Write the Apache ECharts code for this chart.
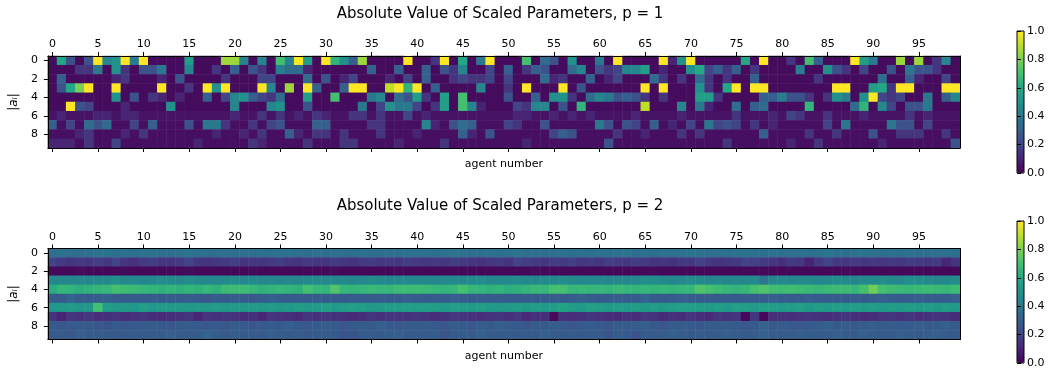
<!DOCTYPE html>
<html><head><meta charset="utf-8">
<script src="https://cdn.jsdelivr.net/npm/echarts@6/dist/echarts.min.js"></script>
<style>html,body{margin:0;padding:0;background:#fff}#c{width:1056px;height:373px}</style>
</head><body><div id="c"></div>
<script>
// ---- data ----
const titleTop = 'Absolute Value of Scaled Parameters, p = 1';
const titleBottom = 'Absolute Value of Scaled Parameters, p = 2';
const rowLabels = ['0','1','2','3','4','5','6','7','8','9'];
const agentLabels = Array.from({length:100}, (_, i) => String(i));
const colorTicks = [0, 0.2, 0.4, 0.6, 0.8, 1.0];

// p = 1 , rows 0..9 , agents 0..99
const p1r0 = [.03,.6,.25,.03,.25,1,.45,.5,1,.42, 1,.03,.03,.03,.03,.55,.03,.03,.03,.85, .85,.45,.03,.45,.03,.7,.45,1,.55,.03, 1,.65,.5,.3,.85,.03,.03,.03,.03,1, .03,.03,.15,1,.03,.6,.03,.4,1,.03, .03,.03,.7,.03,.35,.25,.03,.5,.03,.03, .4,.03,1,.03,.03,.03,.03,1,.1,.5, 1,.03,.03,.03,.03,.03,.6,.03,1,.03, .03,.15,.03,.7,.3,.03,.03,.03,1,.55, .4,.03,.03,.85,.03,.85,.03,.15,.45,.03];
const p1r1 = [.03,.03,.03,.15,.15,.4,.03,.5,.15,.03, .25,.25,.4,.03,.03,.45,.03,.03,.15,.03, .3,.03,.25,.15,.03,.42,.35,.35,.1,.03, .03,.03,.03,.03,.03,.3,.03,.03,.3,.03, .03,.3,.03,.25,.15,.45,.03,.03,.2,.03, .3,.03,.15,.3,.25,.03,.03,.35,.45,.03, .25,.15,.2,.45,.45,.55,.03,.1,.03,.03, .5,.6,.2,.3,.15,.3,.03,.15,.03,.03, .03,.03,.42,.03,.03,.5,.25,.15,.03,.2, .03,.03,.25,.03,.4,.25,.25,.15,.03,.03];
const p1r2 = [.03,.3,.03,.03,.03,.03,.03,.1,.15,.03, .03,.03,.1,.03,.25,.03,.03,.03,.03,.15, .03,.03,.03,.2,.2,.03,.03,.03,.35,.03, .25,.03,.1,.2,.03,.03,.03,.1,.03,.2, .03,.3,.03,.03,.15,.2,.15,.15,.2,.03, .2,.03,.03,.03,.35,.1,.15,.03,.03,.3, .03,.1,.2,.03,.03,.03,.35,.15,.03,.15, .03,.35,.15,.03,.15,.03,.03,.3,.03,.03, .03,.03,.03,.03,.15,.03,.03,.03,.03,.03, .03,.35,.03,.03,.3,.1,.03,.03,.2,.03];
const p1r3 = [.03,.25,.6,.8,1,.03,.03,1,.03,.03, .03,.03,1,.03,.03,.15,.03,1,.5,1, .03,.03,.03,1,.45,.03,.85,.03,1,.3, .03,.03,.3,1,1,.03,.03,.9,1,.65, 1,.03,.3,.03,.03,.03,.03,.45,.03,.03, .15,.03,1,.03,.03,.03,1,.03,.25,.03, .03,.03,.03,.03,.03,1,.03,1,.03,.03, .03,.5,.15,.03,.6,1,.03,1,1,.03, .03,.03,.03,.03,.03,.03,1,1,.03,.03, .55,.6,.15,1,1,.03,.03,.03,1,1];
const p1r4 = [.03,.03,.03,.03,.03,.03,.03,.5,.03,.25, .03,.15,.1,.03,.1,.03,.03,.3,.03,.2, .45,.5,.3,.2,.15,.35,.03,.03,.55,.03, .03,.7,.03,.03,.03,.4,.45,.03,.35,.25, .55,.15,.03,.55,.03,.7,.03,.03,.03,.03, .25,.03,.03,.3,.03,.5,.5,.15,.03,.35, .45,.4,.25,.3,.25,.15,.03,.15,.03,.03, .03,.55,.55,.15,.03,.03,.03,.03,.3,.3, .42,.25,.25,.15,.03,.15,.5,.42,.03,.5, 1,.2,.15,.2,.03,.03,.4,.03,.3,.45];
const p1r5 = [.03,.03,1,.25,.2,.03,.03,.03,.1,.03, .03,.03,.03,.5,.03,.03,.03,.03,.03,.03, .45,.03,.03,.03,.45,.5,.03,.03,.25,.03, .03,.03,.03,.03,.4,.03,.2,.5,.4,.4, .2,.03,.15,.55,.03,.7,.45,.1,.03,.03, .03,.2,.15,.45,.45,.03,.25,.03,.65,.03, .03,.03,.03,.03,.03,.9,.03,.03,.03,.45, .03,.4,.1,.03,.03,.35,.03,.3,.35,.03, .03,.03,.03,.65,.03,.03,.03,.03,.35,.65, .03,.45,.2,.03,.25,.25,.4,.03,.03,.03];
const p1r6 = [.05,.1,.05,.05,.05,.1,.1,.05,.1,.1, .05,.05,.05,.05,.05,.05,.05,.05,.05,.05, .1,.05,.05,.15,.05,.15,.05,.1,.05,.15, .1,.05,.05,.15,.15,.05,.15,.05,.05,.2, .05,.1,.05,.05,.05,.05,.05,.05,.05,.05, .05,.1,.1,.05,.05,.1,.05,.1,.05,.1, .05,.05,.05,.05,.1,.05,.05,.05,.05,.1, .05,.05,.05,.05,.05,.15,.05,.05,.05,.1, .05,.2,.15,.05,.05,.15,.05,.05,.05,.1, .05,.05,.05,.05,.15,.05,.1,.05,.05,.05];
const p1r7 = [.3,.04,.2,.04,.35,.25,.35,.04,.04,.2, .04,.3,.04,.04,.04,.25,.04,.4,.4,.15, .04,.04,.15,.04,.2,.25,.04,.04,.04,.3, .3,.04,.04,.04,.04,.15,.15,.04,.04,.04, .04,.45,.1,.04,.25,.35,.3,.04,.04,.04, .2,.15,.04,.04,.25,.04,.04,.04,.04,.04, .4,.25,.04,.25,.2,.04,.3,.04,.1,.04, .2,.04,.4,.2,.25,.2,.04,.15,.04,.1, .04,.04,.04,.04,.04,.2,.04,.4,.04,.04, .04,.04,.4,.25,.25,.04,.2,.04,.04,.04];
const p1r8 = [.04,.04,.04,.1,.15,.04,.04,.04,.1,.04, .15,.04,.04,.04,.04,.04,.04,.04,.1,.04, .04,.1,.04,.15,.04,.04,.3,.1,.04,.15, .15,.04,.15,.04,.04,.04,.15,.04,.04,.04, .1,.04,.04,.04,.04,.3,.1,.04,.25,.04, .04,.04,.04,.04,.04,.2,.3,.25,.04,.04, .04,.04,.15,.04,.04,.1,.04,.04,.04,.15, .04,.15,.04,.04,.04,.04,.04,.04,.3,.04, .04,.04,.04,.15,.04,.04,.15,.04,.04,.04, .25,.04,.04,.15,.15,.15,.04,.04,.15,.04];
const p1r9 = [.1,.1,.1,.04,.15,.04,.04,.2,.04,.04, .04,.04,.04,.04,.04,.04,.1,.04,.04,.04, .04,.04,.15,.1,.04,.04,.04,.04,.15,.04, .04,.04,.15,.15,.04,.04,.04,.04,.1,.04, .04,.04,.04,.15,.04,.04,.04,.04,.04,.04, .04,.04,.1,.04,.04,.04,.04,.04,.04,.04, .04,.25,.04,.04,.04,.04,.04,.04,.04,.04, .04,.04,.04,.04,.15,.04,.04,.04,.04,.04, .04,.1,.04,.04,.15,.04,.04,.04,.04,.04, .04,.1,.04,.04,.04,.04,.04,.04,.04,.25];

// p = 2
const p2r0 = [.36,.37,.36,.35,.36,.37,.38,.36,.37,.36, .38,.37,.36,.36,.37,.38,.37,.36,.36,.37, .36,.37,.36,.37,.36,.37,.38,.36,.36,.37, .36,.37,.36,.36,.37,.36,.36,.37,.36,.37, .36,.37,.36,.37,.38,.37,.36,.36,.37,.36, .37,.38,.36,.37,.36,.36,.37,.36,.37,.36, .37,.36,.37,.38,.36,.37,.36,.37,.36,.37, .38,.37,.36,.37,.36,.37,.38,.37,.36,.37, .36,.36,.37,.36,.37,.38,.37,.36,.37,.38, .37,.36,.37,.36,.37,.36,.37,.36,.37,.36];
const p2r1 = [.2,.17,.15,.17,.16,.18,.16,.2,.15,.14, .17,.18,.16,.15,.17,.2,.16,.15,.16,.17, .18,.15,.16,.15,.17,.18,.16,.15,.17,.16, .15,.17,.16,.15,.17,.18,.16,.17,.16,.18, .17,.16,.17,.16,.18,.17,.15,.14,.16,.17, .15,.2,.18,.17,.16,.18,.17,.19,.16,.17, .16,.18,.17,.16,.18,.17,.15,.16,.14,.17, .16,.19,.17,.15,.16,.17,.2,.19,.17,.16, .13,.17,.16,.1,.17,.2,.17,.16,.17,.16, .17,.16,.17,.16,.18,.17,.16,.17,.11,.15];
const p2r2 = [.02,.02,.02,.03,.02,.02,.02,.02,.03,.02, .02,.02,.02,.02,.02,.03,.02,.02,.02,.02, .02,.02,.03,.02,.02,.02,.02,.02,.02,.02, .02,.03,.02,.02,.02,.02,.02,.02,.03,.02, .02,.02,.02,.02,.02,.02,.02,.02,.02,.02, .02,.02,.02,.03,.02,.02,.02,.02,.02,.02, .02,.02,.02,.02,.02,.02,.03,.02,.02,.02, .02,.02,.02,.02,.02,.02,.02,.02,.02,.02, .02,.02,.02,.02,.02,.02,.02,.03,.02,.02, .02,.02,.02,.02,.02,.02,.02,.02,.02,.02];
const p2r3 = [.46,.47,.46,.47,.46,.47,.47,.49,.47,.47, .46,.47,.48,.47,.46,.48,.47,.46,.47,.47, .48,.46,.47,.46,.47,.46,.47,.46,.47,.47, .47,.46,.47,.46,.47,.48,.47,.46,.47,.47, .46,.47,.46,.47,.47,.46,.47,.48,.46,.47, .47,.48,.47,.46,.47,.47,.48,.47,.47,.46, .47,.46,.47,.46,.47,.49,.48,.47,.46,.47, .48,.47,.46,.47,.46,.47,.46,.47,.39,.46, .47,.46,.47,.47,.46,.47,.48,.47,.46,.47, .47,.48,.47,.46,.49,.48,.47,.46,.47,.48];
const p2r4 = [.62,.66,.65,.63,.64,.65,.66,.7,.68,.67, .66,.65,.64,.65,.64,.65,.64,.66,.64,.68, .68,.68,.66,.64,.65,.66,.65,.64,.7,.66, .65,.72,.66,.65,.66,.67,.66,.66,.68,.68, .68,.67,.66,.65,.66,.7,.66,.65,.64,.65, .63,.64,.65,.67,.66,.7,.7,.66,.67,.66, .66,.65,.67,.66,.65,.66,.65,.66,.65,.66, .66,.72,.7,.68,.66,.65,.66,.7,.72,.69, .68,.69,.68,.67,.66,.67,.68,.68,.66,.7, .78,.7,.68,.67,.66,.67,.68,.67,.66,.68];
const p2r5 = [.29,.28,.32,.29,.28,.29,.3,.29,.28,.29, .28,.29,.28,.29,.28,.29,.28,.27,.29,.28, .29,.28,.27,.29,.3,.29,.28,.29,.28,.29, .28,.29,.28,.29,.28,.28,.29,.28,.29,.3, .29,.28,.29,.28,.3,.29,.28,.29,.28,.29, .28,.28,.29,.28,.29,.29,.28,.29,.31,.29, .28,.29,.3,.29,.28,.32,.29,.28,.29,.3, .29,.28,.29,.28,.29,.28,.29,.28,.29,.3, .29,.28,.29,.3,.29,.28,.29,.28,.29,.28, .29,.3,.29,.28,.29,.3,.29,.28,.29,.3];
const p2r6 = [.52,.53,.54,.52,.53,.7,.55,.53,.54,.53, .56,.53,.54,.53,.54,.53,.54,.53,.54,.53, .54,.53,.54,.53,.54,.53,.54,.55,.53,.54, .56,.54,.55,.56,.55,.53,.54,.55,.55,.56, .55,.56,.55,.54,.56,.55,.54,.55,.54,.53, .54,.55,.54,.55,.54,.55,.58,.55,.54,.57, .55,.54,.55,.54,.55,.54,.55,.54,.55,.57, .56,.55,.54,.55,.54,.56,.55,.54,.56,.55, .54,.55,.56,.54,.55,.54,.55,.54,.55,.54, .55,.54,.55,.54,.55,.54,.55,.54,.55,.54];
const p2r7 = [.15,.1,.15,.14,.16,.13,.14,.15,.13,.14, .15,.13,.12,.13,.14,.15,.11,.15,.14,.15, .14,.12,.14,.11,.15,.14,.13,.12,.15,.14, .15,.14,.13,.12,.13,.15,.14,.16,.15,.14, .15,.14,.13,.14,.16,.15,.14,.13,.14,.15, .14,.15,.12,.14,.13,.02,.14,.13,.14,.15, .14,.13,.12,.14,.13,.15,.14,.12,.14,.13, .15,.13,.12,.15,.14,.15,.02,.15,.02,.13, .14,.13,.14,.15,.14,.13,.14,.15,.13,.12, .13,.14,.15,.14,.15,.13,.14,.15,.14,.12];
const p2r8 = [.28,.27,.28,.29,.28,.27,.26,.28,.27,.28, .28,.29,.28,.27,.28,.29,.28,.27,.28,.27, .29,.28,.27,.28,.29,.28,.3,.28,.27,.28, .29,.28,.27,.28,.29,.28,.3,.28,.27,.29, .28,.29,.28,.27,.29,.28,.27,.29,.28,.3, .29,.28,.27,.29,.28,.29,.28,.27,.28,.29, .28,.27,.29,.28,.29,.3,.28,.27,.28,.29, .28,.27,.29,.28,.29,.28,.27,.28,.31,.28, .29,.28,.27,.28,.29,.31,.28,.29,.28,.29, .3,.28,.29,.28,.29,.3,.28,.29,.3,.29];
const p2r9 = [.28,.29,.27,.3,.28,.29,.28,.27,.28,.29, .28,.29,.28,.3,.29,.28,.29,.32,.29,.28, .29,.28,.29,.28,.3,.29,.28,.29,.27,.28, .29,.28,.26,.26,.28,.29,.28,.29,.3,.28, .29,.28,.29,.26,.28,.29,.28,.3,.29,.28, .29,.28,.29,.28,.3,.29,.28,.29,.28,.29, .28,.26,.29,.28,.26,.29,.28,.29,.3,.29, .28,.29,.28,.29,.3,.29,.28,.29,.3,.29, .28,.29,.3,.29,.28,.29,.3,.29,.28,.3, .29,.28,.29,.3,.29,.28,.29,.3,.29,.28];

const p1Rows = [p1r0,p1r1,p1r2,p1r3,p1r4,p1r5,p1r6,p1r7,p1r8,p1r9];
const p2Rows = [p2r0,p2r1,p2r2,p2r3,p2r4,p2r5,p2r6,p2r7,p2r8,p2r9];

const viridis = ['#440154','#482475','#414487','#355f8d','#2a788e','#21918c','#22a884','#44bf70','#7ad151','#bddf26','#fde725'];

function toCells(rows){
  const out = [];
  rows.forEach((row, r) => row.forEach((v, c) => out.push([c, r, v])));
  return out;
}

const FONT = 'DejaVu Sans';
const BLACK = '#000';

const panels = [
  {top: 56, height: 92, cbTop: 31, title: titleTop, titleTop: 7, rows: p1Rows},
  {top: 248.5, height: 91, cbTop: 221, title: titleBottom, titleTop: 199, rows: p2Rows}
];
const L = 47.4, W = 912.6;

const grid = [], xAxis = [], yAxis = [], series = [], visualMap = [], title = [];
panels.forEach((p, i) => {
  const gi = grid.length;
  grid.push({left: L, top: p.top, width: W, height: p.height, containLabel: false});
  const xi = xAxis.length, yi = yAxis.length;
  xAxis.push({type:'category', gridIndex: gi, data: agentLabels, position:'top', z: 5,
    axisLine:{show:true, onZero:false, lineStyle:{color:BLACK, width:1}},
    axisTick:{show:true, interval:4, alignWithLabel:true, length:4, lineStyle:{color:BLACK, width:1}},
    axisLabel:{interval:4, color:BLACK, fontSize:11, fontFamily:FONT, margin:6},
    splitLine:{show:false}});
  xAxis.push({type:'category', gridIndex: gi, data: agentLabels, position:'bottom', z: 5,
    axisLine:{show:true, onZero:false, lineStyle:{color:BLACK, width:1}},
    axisTick:{show:true, interval:4, alignWithLabel:true, length:4, lineStyle:{color:BLACK, width:1}},
    axisLabel:{show:false}, splitLine:{show:false},
    name:'agent number', nameLocation:'middle', nameGap:11,
    nameTextStyle:{color:BLACK, fontSize:11, fontFamily:FONT, verticalAlign:'top'}});
  yAxis.push({type:'category', gridIndex: gi, data: rowLabels, inverse:true, position:'left', z: 5,
    axisLine:{show:true, onZero:false, lineStyle:{color:BLACK, width:1}},
    axisTick:{show:true, interval:1, alignWithLabel:true, length:4, lineStyle:{color:BLACK, width:1}},
    axisLabel:{interval:1, color:BLACK, fontSize:11, fontFamily:FONT, margin:10},
    splitLine:{show:false},
    name:'|aᵢ|', nameLocation:'middle', nameGap:21, nameRotate:90,
    nameTextStyle:{color:BLACK, fontSize:12, fontFamily:FONT, fontStyle:'italic'}});
  yAxis.push({type:'category', gridIndex: gi, data: rowLabels, inverse:true, position:'right', z: 5,
    axisLine:{show:true, onZero:false, lineStyle:{color:BLACK, width:1}},
    axisTick:{show:false}, axisLabel:{show:false}, splitLine:{show:false}});
  series.push({type:'heatmap', xAxisIndex: xi, yAxisIndex: yi, data: toCells(p.rows),
    progressive: 0, itemStyle:{borderWidth:0}, emphasis:{disabled:true}});
  visualMap.push({type:'continuous', min:0, max:1, seriesIndex: i, calculable:false, hoverLink:false,
    orient:'vertical', left:1017, top:p.cbTop, itemWidth:7, itemHeight:142, padding:0, text:null,
    inRange:{color: viridis}});
  title.push({text: p.title, left: 500, top: p.titleTop, textAlign:'center', padding:0,
    textStyle:{fontSize:15, fontWeight:'normal', color:BLACK, fontFamily:FONT}});
  // colorbar axes
  const cg = grid.length;
  grid.push({left:1017, top:p.cbTop, width:7, height:142, show:true, borderColor:BLACK, borderWidth:1, z:10, backgroundColor:'transparent'});
  xAxis.push({type:'value', gridIndex: cg, show:false, min:0, max:1});
  yAxis.push({type:'value', gridIndex: cg, min:colorTicks[0], max:colorTicks[colorTicks.length-1], interval:0.2, position:'right', z:10,
    axisLine:{show:false}, splitLine:{show:false},
    axisTick:{show:true, length:4, lineStyle:{color:BLACK, width:1}},
    axisLabel:{color:BLACK, fontSize:11, fontFamily:FONT, margin:3, formatter: v => v.toFixed(1)}});
});

const chart = echarts.init(document.getElementById('c'), null, {renderer:'canvas'});
chart.setOption({animation:false, backgroundColor:'#fff', title, grid, xAxis, yAxis, visualMap, series, tooltip:{show:false}});
</script>
</body></html>
